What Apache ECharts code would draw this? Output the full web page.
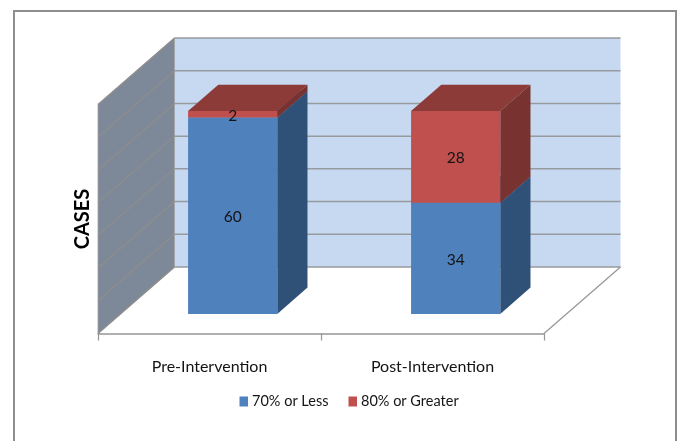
<!DOCTYPE html>
<html>
<head>
<meta charset="utf-8">
<style>html,body{margin:0;padding:0;background:#fff}#chart{width:681px;height:441px}</style>
<script src="https://cdn.jsdelivr.net/npm/echarts@6/dist/echarts.min.js"></script>
</head>
<body>
<div id="chart"></div>
<script>
// Cases by score band, before and after the intervention
var categories = ['Pre-Intervention', 'Post-Intervention'];
var seriesNames = ['70% or Less', '80% or Greater'];
var lessValues = [60, 34];
var greaterValues = [2, 28];
var gridValues = [0, 10, 20, 30, 40, 50, 60, 70];

// Oblique projection of the box: screen offset from the front plane to the back wall
var DEPTH_X = 76.5, DEPTH_Y = -66.5;
var BAR_OFFSET = 0.295;   // how far into the floor the bars stand
var BAR_DEPTH = 0.395;    // front-to-back size of a bar
var BAR_WIDTH = 0.40;     // share of the category band

var FONT = 'Lato';

function poly(points, fill, extra) {
  return {
    type: 'polygon',
    shape: { points: points },
    style: Object.assign({ fill: fill }, extra || {}),
    silent: true
  };
}

// Back wall, side wall and the floor edge
function renderWalls(params, api) {
  var band = api.size([1, 0])[0];
  var first = api.coord([0, 0]);
  var top = api.coord([0, 70]);
  var left = first[0] - band / 2, right = left + band * 2;
  var y0 = first[1], y1 = top[1];
  return {
    type: 'group',
    children: [
      poly([[left + DEPTH_X, y0 + DEPTH_Y], [right + DEPTH_X, y0 + DEPTH_Y],
            [right + DEPTH_X, y1 + DEPTH_Y], [left + DEPTH_X, y1 + DEPTH_Y]], '#c6d9f0'),
      poly([[left, y0], [left + DEPTH_X, y0 + DEPTH_Y],
            [left + DEPTH_X, y1 + DEPTH_Y], [left, y1]], '#7d8999',
           { stroke: '#a0a0a0', lineWidth: 0.8 }),
      {
        type: 'line',
        shape: { x1: right, y1: y0, x2: right + DEPTH_X, y2: y0 + DEPTH_Y },
        style: { stroke: '#969696', lineWidth: 1.2 },
        silent: true
      }
    ]
  };
}

// One horizontal rule across the back wall and its trace along the side wall
function renderGridLine(params, api) {
  var band = api.size([1, 0])[0];
  var p = api.coord([0, api.value(0)]);
  var left = p[0] - band / 2, right = left + band * 2, y = p[1];
  return {
    type: 'group',
    children: [
      {
        type: 'line',
        shape: { x1: left, y1: y, x2: left + DEPTH_X, y2: y + DEPTH_Y },
        style: { stroke: '#908d8c', lineWidth: 1.2 },
        silent: true
      },
      {
        type: 'line',
        shape: { x1: left + DEPTH_X, y1: y + DEPTH_Y, x2: right + DEPTH_X, y2: y + DEPTH_Y },
        style: { stroke: '#979a9e', lineWidth: 1.5 },
        silent: true
      }
    ]
  };
}

// A stacked segment as a box: front, right side, top and a value label on the front
function makeBarRenderer(front, side, topFace) {
  return function (params, api) {
    var cat = api.value(0), base = api.value(1), value = api.value(2);
    var band = api.size([1, 0])[0];
    var c0 = api.coord([cat, base]), c1 = api.coord([cat, base + value]);
    var ox = DEPTH_X * BAR_OFFSET + 0.6, oy = DEPTH_Y * BAR_OFFSET;
    var dx = DEPTH_X * BAR_DEPTH, dy = DEPTH_Y * BAR_DEPTH;
    var w = band * BAR_WIDTH;
    var x0 = c0[0] + ox - w / 2, x1 = x0 + w;
    var yb = c0[1] + oy, yt = c1[1] + oy;
    return {
      type: 'group',
      children: [
        poly([[x1, yb], [x1 + dx, yb + dy], [x1 + dx, yt + dy], [x1, yt]], side),
        poly([[x0, yt], [x1, yt], [x1 + dx, yt + dy], [x0 + dx, yt + dy]], topFace),
        poly([[x0, yb], [x1, yb], [x1, yt], [x0, yt]], front),
        {
          type: 'text',
          x: (x0 + x1) / 2,
          y: (yb + yt) / 2 + 1.5,
          style: {
            text: String(value),
            fill: '#141414',
            font: '15.5px ' + FONT,
            align: 'center',
            verticalAlign: 'middle'
          },
          silent: true
        }
      ]
    };
  };
}

var lessData = categories.map(function (_, i) { return [i, 0, lessValues[i]]; });
var greaterData = categories.map(function (_, i) { return [i, lessValues[i], greaterValues[i]]; });

var chart = echarts.init(document.getElementById('chart'));
chart.setOption({
  animation: false,
  backgroundColor: '#ffffff',
  textStyle: { fontFamily: FONT },
  graphic: [{
    type: 'rect',
    shape: { x: 14, y: 11, width: 662, height: 440 },
    style: { fill: 'none', stroke: '#8e8e8e', lineWidth: 2 },
    silent: true,
    z: -1
  }],
  grid: { left: 98, top: 104.5, width: 446, height: 229 },
  legend: {
    data: seriesNames,
    left: 239.5,
    top: 394,
    icon: 'rect',
    itemWidth: 8.5,
    itemHeight: 10,
    itemGap: 20,
    padding: 0,
    selectedMode: false,
    textStyle: { fontFamily: FONT, fontSize: 14.5, color: '#141414', padding: [0, 0, 0, -1] }
  },
  xAxis: {
    type: 'category',
    data: categories,
    boundaryGap: true,
    axisLine: { show: true, lineStyle: { color: '#969696', width: 1.5 } },
    axisTick: { show: true, alignWithLabel: false, length: 7, lineStyle: { color: '#969696', width: 1.2 } },
    axisLabel: { margin: 25, fontFamily: FONT, fontSize: 16, color: '#141414' },
    splitLine: { show: false }
  },
  yAxis: {
    type: 'value',
    min: 0,
    max: 70,
    interval: 10,
    name: 'CASES',
    nameLocation: 'middle',
    nameGap: 5,
    nameRotate: 90,
    nameTextStyle: { fontFamily: FONT, fontSize: 20, fontWeight: 'bold', color: '#000' },
    axisLine: { show: false },
    axisTick: { show: false },
    axisLabel: { show: false },
    splitLine: { show: false }
  },
  series: [
    { type: 'custom', name: 'walls', data: [[0]], renderItem: renderWalls, z: 1, silent: true, encode: { x: -1, y: -1 } },
    { type: 'custom', name: 'rules', data: gridValues.map(function (v) { return [v]; }), renderItem: renderGridLine, z: 2, silent: true, encode: { x: -1, y: 0 } },
    {
      type: 'custom',
      name: seriesNames[0],
      data: lessData,
      renderItem: makeBarRenderer('#4f81bd', '#2f5178', '#3f6797'),
      itemStyle: { color: '#4f81bd' },
      encode: { x: 0, y: [1, 2] },
      z: 3
    },
    {
      type: 'custom',
      name: seriesNames[1],
      data: greaterData,
      renderItem: makeBarRenderer('#c0504d', '#78322f', '#8c3b38'),
      itemStyle: { color: '#c0504d' },
      encode: { x: 0, y: [1, 2] },
      z: 4
    }
  ]
});
</script>
</body>
</html>
